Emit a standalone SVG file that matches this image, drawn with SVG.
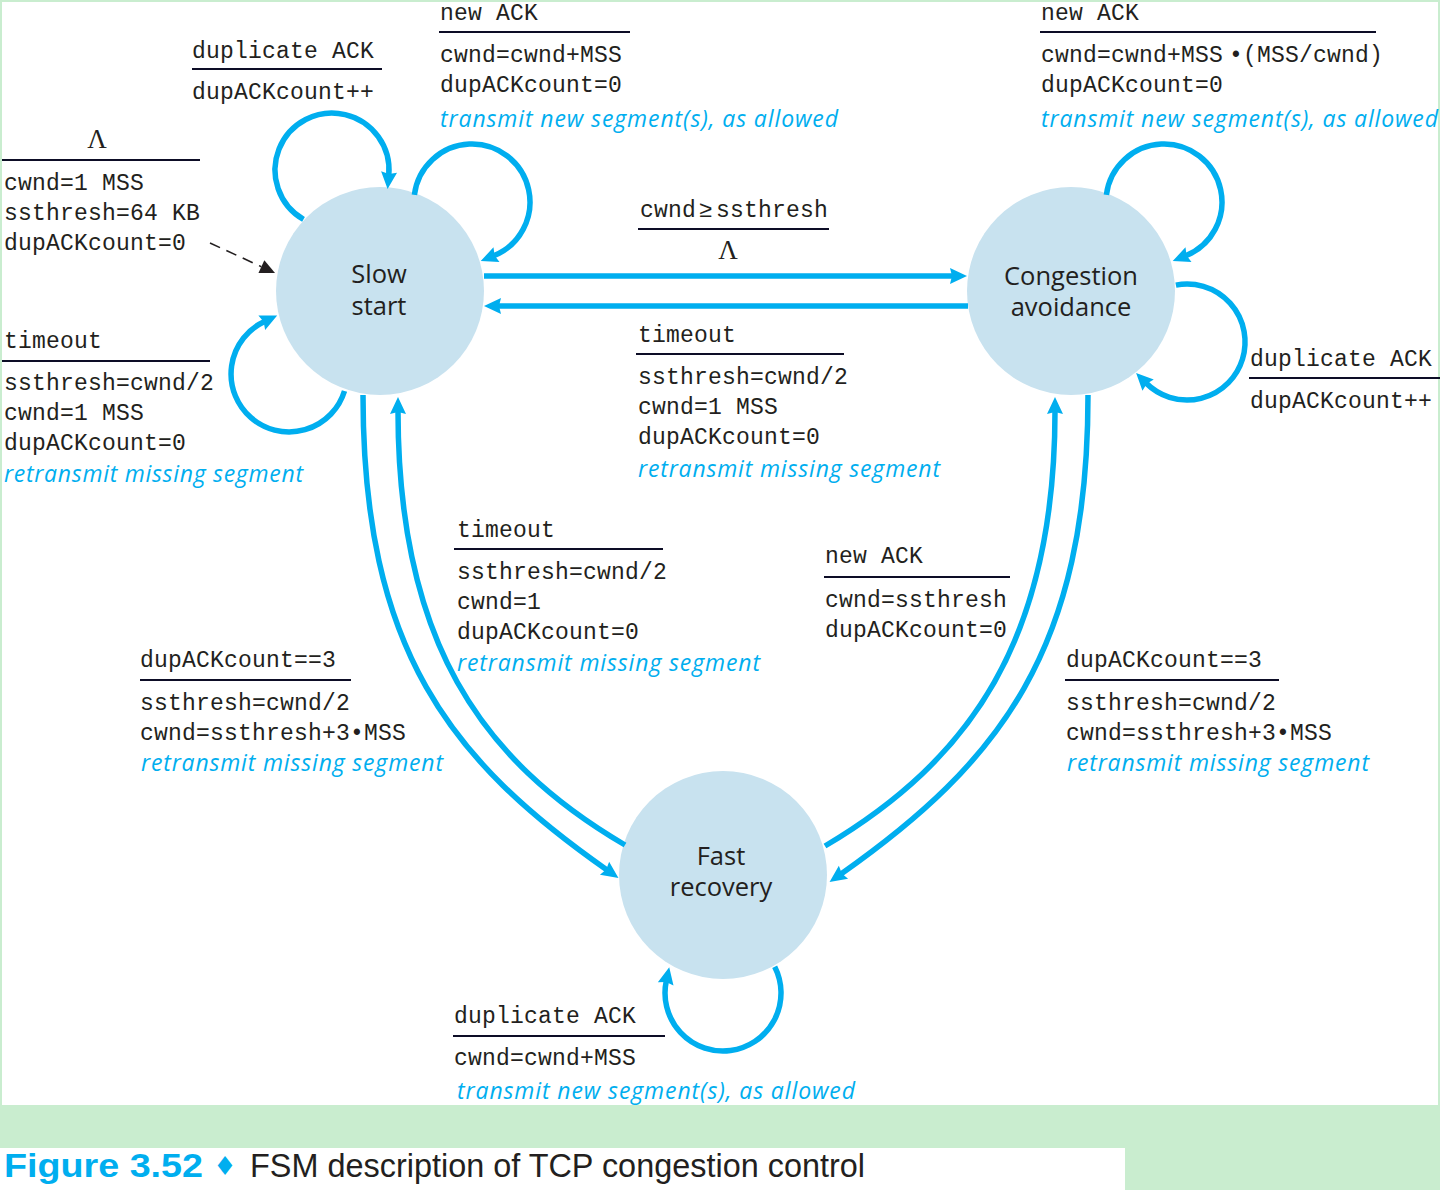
<svg xmlns="http://www.w3.org/2000/svg" width="1440" height="1190" viewBox="0 0 1440 1190">
<style>
.m{font-family:"Liberation Mono","Courier New",monospace;font-size:23px;fill:#231f20;letter-spacing:0.2px}
.i{font-family:"Open Sans","Noto Sans",sans-serif;font-style:italic;font-size:23px;fill:#00aeef}
.s{font-family:"Open Sans","Noto Sans",sans-serif;font-size:25.5px;fill:#231f20;text-anchor:middle}
.l{font-family:"Liberation Serif",serif;font-size:27px;fill:#231f20;text-anchor:middle}
.u{stroke:#0d0d26;stroke-width:1.8}
.c{fill:none;stroke:#00aeef;stroke-width:5.5;marker-end:url(#ah)}
.n{fill:#c8e2ef}
</style>
<defs>
<marker id="ah" markerUnits="userSpaceOnUse" markerWidth="20" markerHeight="20" viewBox="-4 -10 20 20" refX="0" refY="0" orient="auto"><path d="M14,0 L-3,-8 L-1,0 L-3,8 Z" fill="#00aeef"/></marker>
<marker id="bh" markerUnits="userSpaceOnUse" markerWidth="20" markerHeight="20" viewBox="-2 -10 20 20" refX="0" refY="0" orient="auto"><path d="M15,0 L0,-7 L0,7 Z" fill="#231f20"/></marker>
</defs>
<rect x="0" y="0" width="1440" height="1190" fill="#c9edcf"/>
<rect x="2" y="2" width="1436" height="1103" fill="#ffffff"/>
<rect x="0" y="1148" width="1125" height="42" fill="#ffffff"/>

<g id="slow-start"><circle class="n" cx="380" cy="291" r="104"/><text class="s" x="379" y="283">Slow</text><text class="s" x="379" y="315">start</text></g>
<g id="congestion-avoidance"><circle class="n" cx="1071" cy="291" r="104"/><text class="s" x="1071" y="285">Congestion</text><text class="s" x="1071" y="316">avoidance</text></g>
<g id="fast-recovery"><circle class="n" cx="723" cy="875" r="104"/><text class="s" x="721" y="865">Fast</text><text class="s" x="721" y="896">recovery</text></g>

<g id="connectors">
<path class="c" d="M303.5,219.4 A57,57 0 1 1 388.8,175"/>
<path class="c" d="M414.4,194.9 A58,58 0 1 1 493.7,255.8"/>
<path class="c" d="M344.5,391 A58,58 0 1 1 264.5,321.4"/>
<path class="c" d="M1106.4,194.9 A58,58 0 1 1 1185.7,255.8"/>
<path class="c" d="M1175.9,285.1 A58,58 0 1 1 1146,383"/>
<path class="c" d="M774.7,966.7 A58,58 0 1 1 666.3,980.9"/>
<path class="c" d="M484,276 L953,276"/>
<path class="c" d="M968,306 L498,306"/>
<path class="c" d="M363,395 C363,650 450,760 607,870"/>
<path class="c" d="M625,845 C480,760 398,640 398,411"/>
<path class="c" d="M1088,395 C1088,650 1000,762 841,874"/>
<path class="c" d="M825,846 C970,760 1055,640 1055,411"/>
<path d="M210,243 L261.4,266.7" fill="none" stroke="#231f20" stroke-width="1.6" stroke-dasharray="11 7" marker-end="url(#bh)"/>
</g>

<g id="labels">
<line class="u" x1="192" y1="69" x2="382" y2="69"/>
<text class="m" x="192" y="58">duplicate ACK</text>
<text class="m" x="192" y="99">dupACKcount++</text>

<text class="l" x="97" y="148">Λ</text>
<line class="u" x1="2" y1="160" x2="200" y2="160"/>
<text class="m" x="4" y="190">cwnd=1 MSS</text>
<text class="m" x="4" y="220">ssthresh=64 KB</text>
<text class="m" x="4" y="250">dupACKcount=0</text>

<text class="m" x="440" y="20">new ACK</text>
<line class="u" x1="439" y1="32" x2="630" y2="32"/>
<text class="m" x="440" y="62">cwnd=cwnd+MSS</text>
<text class="m" x="440" y="92">dupACKcount=0</text>
<text class="i" x="440" y="127" textLength="398">transmit new segment(s), as allowed</text>

<text class="m" x="640" y="217">cwnd<tspan dx="3">≥</tspan><tspan dx="3">ssthresh</tspan></text>
<line class="u" x1="638" y1="229" x2="829" y2="229"/>
<text class="l" x="728" y="259">Λ</text>

<text class="m" x="1041" y="20">new ACK</text>
<line class="u" x1="1040" y1="32" x2="1376" y2="32"/>
<text class="m" x="1041" y="62">cwnd=cwnd+MSS<tspan dx="6">•(MSS/cwnd)</tspan></text>
<text class="m" x="1041" y="92">dupACKcount=0</text>
<text class="i" x="1041" y="127" textLength="397">transmit new segment(s), as allowed</text>

<text class="m" x="4" y="348">timeout</text>
<line class="u" x1="2" y1="361" x2="210" y2="361"/>
<text class="m" x="4" y="390">ssthresh=cwnd/2</text>
<text class="m" x="4" y="420">cwnd=1 MSS</text>
<text class="m" x="4" y="450">dupACKcount=0</text>
<text class="i" x="4" y="482" textLength="299">retransmit missing segment</text>

<text class="m" x="638" y="342">timeout</text>
<line class="u" x1="636" y1="354" x2="844" y2="354"/>
<text class="m" x="638" y="384">ssthresh=cwnd/2</text>
<text class="m" x="638" y="414">cwnd=1 MSS</text>
<text class="m" x="638" y="444">dupACKcount=0</text>
<text class="i" x="638" y="477" textLength="302">retransmit missing segment</text>

<text class="m" x="1250" y="366">duplicate ACK</text>
<line class="u" x1="1249" y1="378" x2="1440" y2="378"/>
<text class="m" x="1250" y="408">dupACKcount++</text>

<text class="m" x="457" y="537">timeout</text>
<line class="u" x1="454" y1="549" x2="663" y2="549"/>
<text class="m" x="457" y="579">ssthresh=cwnd/2</text>
<text class="m" x="457" y="609">cwnd=1</text>
<text class="m" x="457" y="639">dupACKcount=0</text>
<text class="i" x="457" y="671" textLength="303">retransmit missing segment</text>

<text class="m" x="140" y="667">dupACKcount==3</text>
<line class="u" x1="140" y1="680" x2="351" y2="680"/>
<text class="m" x="140" y="710">ssthresh=cwnd/2</text>
<text class="m" x="140" y="740">cwnd=ssthresh+3•MSS</text>
<text class="i" x="141" y="771" textLength="302">retransmit missing segment</text>

<text class="m" x="825" y="563">new ACK</text>
<line class="u" x1="824" y1="577" x2="1010" y2="577"/>
<text class="m" x="825" y="607">cwnd=ssthresh</text>
<text class="m" x="825" y="637">dupACKcount=0</text>

<text class="m" x="1066" y="667">dupACKcount==3</text>
<line class="u" x1="1065" y1="680" x2="1279" y2="680"/>
<text class="m" x="1066" y="710">ssthresh=cwnd/2</text>
<text class="m" x="1066" y="740">cwnd=ssthresh+3•MSS</text>
<text class="i" x="1067" y="771" textLength="302">retransmit missing segment</text>

<text class="m" x="454" y="1023">duplicate ACK</text>
<line class="u" x1="453" y1="1036" x2="665" y2="1036"/>
<text class="m" x="454" y="1065">cwnd=cwnd+MSS</text>
<text class="i" x="457" y="1099" textLength="398">transmit new segment(s), as allowed</text>
</g>

<g id="caption">
<text x="4" y="1177" font-family="Liberation Sans,Arial,sans-serif" font-weight="bold" font-size="34" fill="#00aeef" textLength="199" lengthAdjust="spacingAndGlyphs">Figure 3.52</text>
<text x="225" y="1175" font-family="DejaVu Sans,sans-serif" font-size="26" fill="#00aeef" text-anchor="middle">♦</text>
<text x="250" y="1177" font-family="Liberation Sans,Arial,sans-serif" font-size="34" fill="#231f20" textLength="615" lengthAdjust="spacingAndGlyphs">FSM description of TCP congestion control</text>
</g>
</svg>
